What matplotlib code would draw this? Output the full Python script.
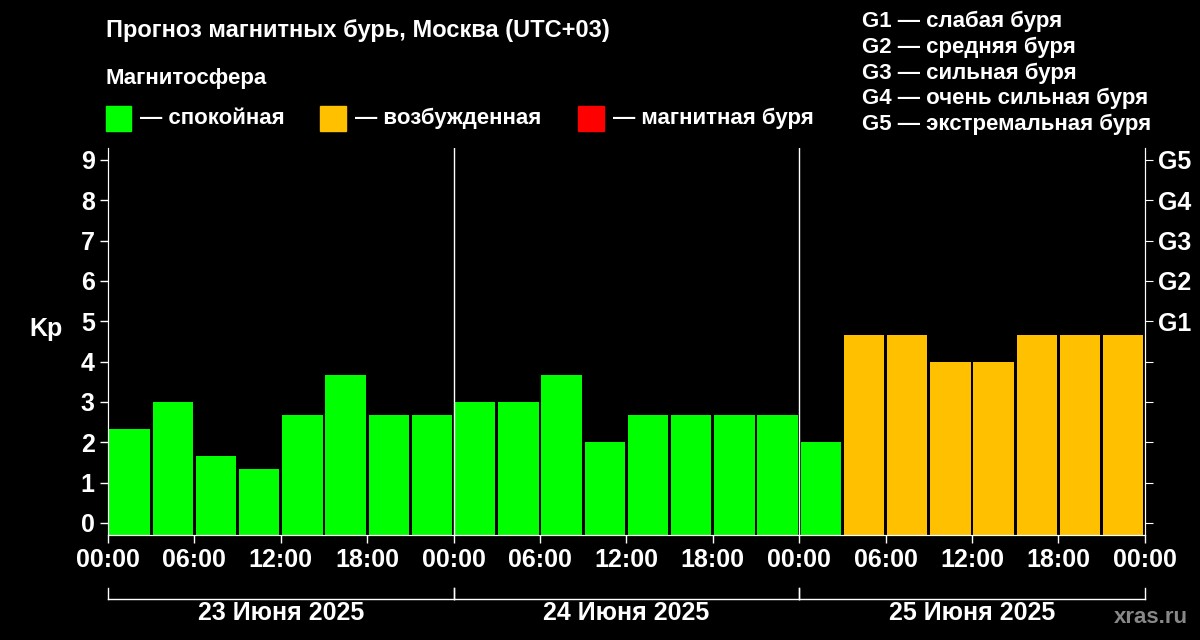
import numpy as np
import matplotlib.pyplot as plt
from matplotlib.patches import Rectangle

days = ['23 Июня 2025', '24 Июня 2025', '25 Июня 2025']
kp = [2.33, 3.0, 1.67, 1.33, 2.67, 3.67, 2.67, 2.67,
      3.0, 3.0, 3.67, 2.0, 2.67, 2.67, 2.67, 2.67,
      2.0, 4.67, 4.67, 4.0, 4.0, 4.67, 4.67, 4.67]
hour_labels = ['00:00', '06:00', '12:00', '18:00'] * 3 + ['00:00']
g_labels = ['G1', 'G2', 'G3', 'G4', 'G5']
g_text = ['G1 — слабая буря', 'G2 — средняя буря', 'G3 — сильная буря',
          'G4 — очень сильная буря', 'G5 — экстремальная буря']

GREEN, ORANGE, RED = '#00ff00', '#ffc000', '#ff0000'

def color(v):
    if v < 4:
        return GREEN
    if v < 5:
        return ORANGE
    return RED

plt.rcParams['font.family'] = ['Liberation Sans', 'DejaVu Sans']
plt.rcParams['font.weight'] = 'bold'

fig = plt.figure(figsize=(12, 6.4), dpi=100, facecolor='black')
ax = fig.add_axes([0.09, 0.164, 0.864, 0.605], facecolor='black')

x = np.arange(len(kp)) * 3 + 1.5
ax.bar(x, np.array(kp) + 0.3, width=2.8, color=[color(v) for v in kp], bottom=-0.3)
ax.set_xlim(0, 72)
ax.set_ylim(-0.3, 9.3)

for s in ax.spines.values():
    s.set_color('white')
ax.spines['top'].set_visible(False)
for d in (24, 48):
    ax.axvline(d, color='white', lw=1)

ax.set_yticks(range(10))
ax.tick_params(colors='white', labelsize=18, width=1, length=6)
ax.set_yticklabels([str(i) for i in range(10)], fontweight='bold')
ax.set_xticks(range(0, 73, 6))
ax.set_xticklabels(hour_labels, fontweight='bold')
ax.set_ylabel('Kp', color='white', fontsize=18, fontweight='bold', rotation=0, labelpad=25)

ax2 = ax.twinx()
ax2.set_ylim(-0.3, 9.3)
ax2.set_yticks(range(10))
ax2.set_yticklabels([''] * 5 + g_labels, fontweight='bold')
ax2.tick_params(colors='white', labelsize=18, length=6)
for s in ax2.spines.values():
    s.set_color('white')
ax2.spines['top'].set_visible(False)

# day brackets
for i, d in enumerate(days):
    x0 = 0.09 + 0.864 * i / 3
    x1 = x0 + 0.864 / 3
    fig.lines.append(plt.Line2D([x0, x1], [0.064, 0.064], color='white', lw=1, transform=fig.transFigure))
    for xx in (x0, x1):
        fig.lines.append(plt.Line2D([xx, xx], [0.064, 0.082], color='white', lw=1, transform=fig.transFigure))
    fig.text((x0 + x1) / 2, 0.042, d, color='white', fontsize=18, ha='center', va='center', fontweight='bold')

fig.text(0.088, 0.952, 'Прогноз магнитных бурь, Москва (UTC+03)', color='white', fontsize=17,
         va='center', fontweight='bold')
fig.text(0.088, 0.877, 'Магнитосфера', color='white', fontsize=16, va='center', fontweight='bold')
legend = [(GREEN, '— спокойная', 0.088), (ORANGE, '— возбужденная', 0.267), (RED, '— магнитная буря', 0.482)]
for c, t, lx in legend:
    fig.patches.append(Rectangle((lx, 0.795), 0.021, 0.04, color=c, transform=fig.transFigure))
    fig.text(lx + 0.029, 0.815, t, color='white', fontsize=16, va='center', fontweight='bold')
for i, t in enumerate(g_text):
    fig.text(0.718, 0.966 - i * 0.04, t, color='white', fontsize=16, va='center', fontweight='bold')
fig.text(0.99, 0.035, 'xras.ru', color='#888888', fontsize=16, ha='right', va='center')

fig.savefig('out.png', dpi=100, facecolor='black')
